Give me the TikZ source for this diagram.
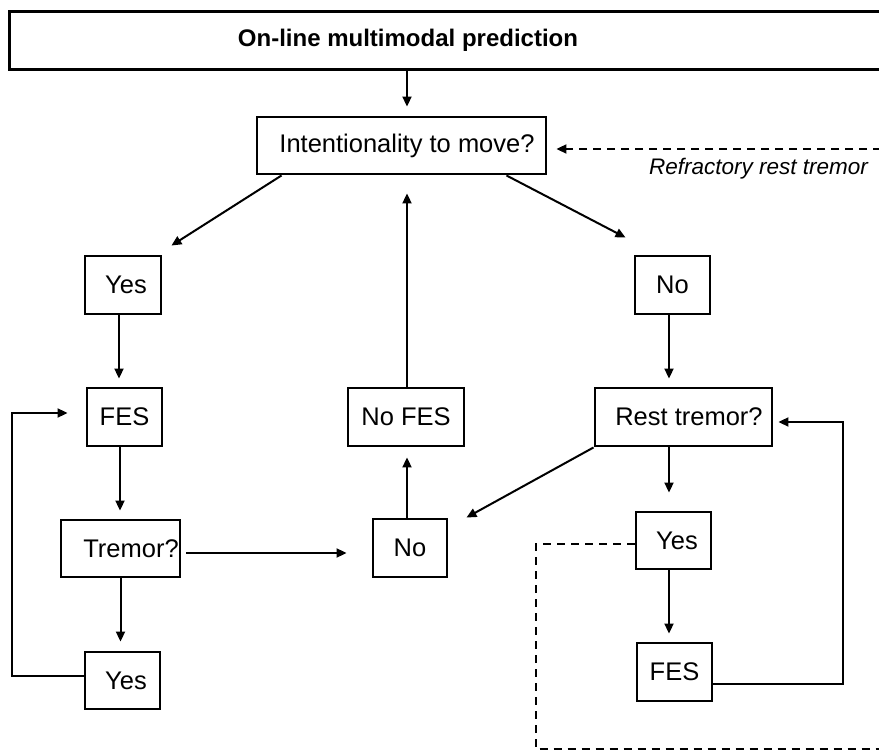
\documentclass[tikz,border=0pt]{standalone}
\usepackage{fontspec}
\setmainfont{Liberation Sans}
\usetikzlibrary{arrows.meta,calc}
\begin{document}
\begin{tikzpicture}[x=1pt,y=-1pt,
  box/.style={draw, line width=2.9pt, inner sep=0pt, font=\fontsize{25.5}{30}\selectfont},
  arr/.style={line width=2pt, -{Triangle[length=10pt,width=9pt]}},
  ln/.style={line width=2pt},
  dsh/.style={line width=2pt, dash pattern=on 8pt off 6pt},
  dsharr/.style={dsh, -{Triangle[length=10pt,width=9pt]}}]
\useasboundingbox (0,0) rectangle (879,751);

% boxes
\node[box, minimum width=893, minimum height=58, anchor=north west] (titlebox) at (8,10) {};
\node[font=\bfseries\fontsize{24}{28}\selectfont] (title) at (408,40) {On-line multimodal prediction};
\node[box, minimum width=289, minimum height=57] (intent) at (401.5,145.5) {\hspace*{11pt}Intentionality to move?};
\node[box, minimum width=76, minimum height=58] (yesA) at (123,285) {\hspace*{6pt}Yes};
\node[box, minimum width=75, minimum height=58] (fesA) at (124.5,417) {FES};
\node[box, minimum width=119, minimum height=57] (trem) at (120.5,548.5) {\hspace*{21pt}Tremor?};
\node[box, minimum width=75, minimum height=57] (yesB) at (122.5,680.5) {\hspace*{7pt}Yes};
\node[box, minimum width=116, minimum height=58] (nofes) at (406,417) {No FES};
\node[box, minimum width=74, minimum height=58] (nomid) at (410,548) {No};
\node[box, minimum width=75, minimum height=58] (noR) at (672.5,285) {No};
\node[box, minimum width=177, minimum height=58] (rest) at (683.5,417) {\hspace*{11pt}Rest tremor?};
\node[box, minimum width=75, minimum height=57] (yesC) at (673.5,540.5) {\hspace*{7pt}Yes};
\node[box, minimum width=75, minimum height=58] (fesC) at (674.5,672) {FES};
\node[anchor=base east, inner sep=0pt, font=\itshape\fontsize{22.5}{26}\selectfont] (refr) at (868,175) {Refractory rest tremor};

% helper coordinates
\coordinate (iTop) at ([xshift=5.5pt]intent.north);
\coordinate (refEnd) at (895,149);

% connectors
\draw[arr, shorten >=9pt] (titlebox.south -| iTop) -- (iTop);
\draw[arr] ([xshift=26pt]intent.south west) -- ([shift={(9,-9)}]yesA.north east);
\draw[arr] ([xshift=-41pt]intent.south east) -- ([shift={(-8,-17)}]noR.north west);
\draw[arr, shorten >=8pt] ([xshift=-4pt]yesA.south) -- ([xshift=-4pt]yesA.south |- fesA.north);
\draw[arr, shorten >=8pt] ([xshift=-4.5pt]fesA.south) -- ([xshift=-4.5pt]fesA.south |- trem.north);
\draw[arr, shorten >=9pt] (trem.south) -- (trem.south |- yesB.north);
\draw[arr, shorten >=18pt] ([yshift=4.5pt]yesB.west) -- ++(-72,0) |- ([yshift=4pt]fesA.west);
\draw[arr, shorten <=5pt, shorten >=25pt] ([yshift=-4.5pt]trem.east) -- ([yshift=-4.5pt]trem.east -| nomid.west);
\draw[arr, shorten >=10pt] ([xshift=-3pt]nomid.north) -- ([xshift=-3pt]nomid.north |- nofes.south);
\draw[arr, shorten >=18pt] ([xshift=1pt]nofes.north) -- ([xshift=1pt]nofes.north |- intent.south);
\draw[arr, shorten >=8pt] ([xshift=-3.5pt]noR.south) -- ([xshift=-3.5pt]noR.south |- rest.north);
\draw[arr] (rest.south west) -- ([xshift=18pt]nomid.north east);
\draw[arr, shorten >=18pt] ([xshift=-14.5pt]rest.south) -- ([xshift=-14.5pt]rest.south |- yesC.north);
\draw[arr, shorten >=8pt] ([xshift=-4.5pt]yesC.south) -- ([xshift=-4.5pt]yesC.south |- fesC.north);
\draw[arr, shorten >=5pt] ([yshift=-12pt]fesC.east) -- ++(130,0) |- ([yshift=-5pt]rest.east);
\draw[dsh] ([yshift=-3.5pt]yesC.west) -- ++(-99,0) -- ++(0,205) -- ++(370,0);
\draw[dsharr, shorten >=9pt] (refEnd) -- (refEnd -| intent.east);
\end{tikzpicture}
\end{document}
